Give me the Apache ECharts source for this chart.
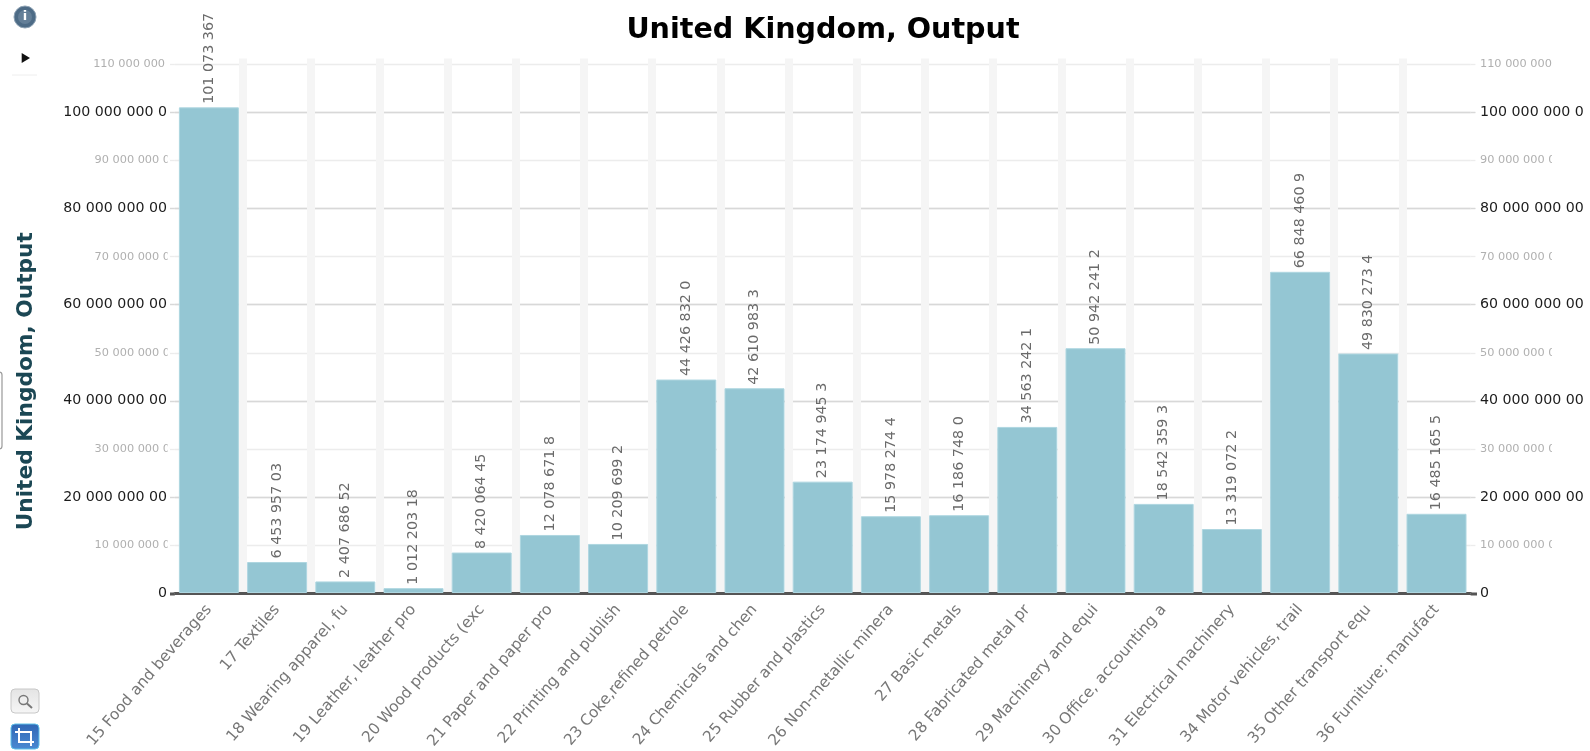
<!DOCTYPE html>
<html><head><meta charset="utf-8">
<style>html,body{margin:0;padding:0;background:#fff}#c{width:1590px;height:751px}</style>
<script src="https://cdn.jsdelivr.net/npm/echarts@6/dist/echarts.min.js"></script>
</head><body><div id="c"></div>
<script>
const chartTitle = "United Kingdom, Output";
const categories = ["15 Food and beverages","17 Textiles","18 Wearing apparel, fu","19 Leather, leather pro","20 Wood products (exc","21 Paper and paper pro","22 Printing and publish","23 Coke,refined petrole","24 Chemicals and chen","25 Rubber and plastics","26 Non-metallic minera","27 Basic metals","28 Fabricated metal pr","29 Machinery and equi","30 Office, accounting a","31 Electrical machinery","34 Motor vehicles, trail","35 Other transport equ","36 Furniture; manufact"];
const values = [101073367,6453957,2407686,1012203,8420064,12078671,10209699,44426832,42610983,23174945,15978274,16186748,34563242,50942241,18542359,13319072,66848460,49830273,16485165];
const valueLabels = ["101 073 367","6 453 957 03","2 407 686 52","1 012 203 18","8 420 064 45","12 078 671 8","10 209 699 2","44 426 832 0","42 610 983 3","23 174 945 3","15 978 274 4","16 186 748 0","34 563 242 1","50 942 241 2","18 542 359 3","13 319 072 2","66 848 460 9","49 830 273 4","16 485 165 5"];
const majorTicks = {0:"0",20000000:"20 000 000 00",40000000:"40 000 000 00",60000000:"60 000 000 00",80000000:"80 000 000 00",100000000:"100 000 000 0"};
const minorTicks = {10000000:"10 000 000 0",30000000:"30 000 000 0",50000000:"50 000 000 0",70000000:"70 000 000 0",90000000:"90 000 000 0",110000000:"110 000 000"};
const axisMax = 111240000;

const FONT = '"DejaVu Sans"';
const chart = echarts.init(document.getElementById('c'), null, {renderer:'canvas'});
const GL = 174.8, GR = 1470.6;

function yAxis(o){
  const isMajor = o.major;
  const map = isMajor ? majorTicks : minorTicks;
  return {
    type:'value', min:0, max:axisMax, interval:isMajor?20000000:10000000, position:o.pos,
    axisLine:{show:false},
    axisTick:{show:true,length:4.8,lineStyle:{color:isMajor?'#d8d8d8':'#ececec',width:1.3}},
    axisLabel:{
      show:true, showMaxLabel:false, showMinLabel:isMajor, margin:o.margin,
      fontFamily:FONT, fontSize:isMajor?14.2:11.3, color:isMajor?'#1c1c1c':'#b0b0b0',
      formatter:(v)=>{ const s = map[v]; if(!s) return ''; return s==="110 000 000" && o.pos==='left' ? '{p|'+s+'}' : s; },
      rich:{p:{padding:[0,5,0,0],fontFamily:FONT,fontSize:11.3,color:'#b0b0b0'}}
    },
    splitLine:{show:o.pos==='left',showMinLine:false,showMaxLine:false,lineStyle:{color:isMajor?'#d8d8d8':'#ececec',width:1.3}},
    ...(o.name?{name:chartTitle,nameLocation:'middle',nameGap:137,nameRotate:90,
      nameTextStyle:{fontFamily:FONT,fontWeight:'bold',fontSize:21.7,color:'#1b4754',padding:[0,111,0,0]}}:{})
  };
}

chart.setOption({
  animation:false,
  backgroundColor:'#fff',
  title:{text:chartTitle,left:818,top:11,textAlign:'center',textStyle:{fontFamily:FONT,fontWeight:'bold',fontSize:28.6,color:'#000'}},
  grid:{left:GL,right:1590-GR,top:58.5,bottom:158,containLabel:false,outerBoundsMode:'none'},
  xAxis:{
    type:'category', data:categories, offset:1,
    axisLine:{show:true,lineStyle:{color:'#555',width:3}},
    axisTick:{show:false},
    axisLabel:{interval:0,rotate:49,margin:13,fontFamily:FONT,fontSize:15.4,color:'#777'},
    splitLine:{show:true,interval:0,showMinLine:false,showMaxLine:false,lineStyle:{color:'#f5f5f5',width:8}}
  },
  yAxis:[
    yAxis({pos:'left',major:false,margin:4.8}),
    yAxis({pos:'right',major:false,margin:9.4}),
    yAxis({pos:'left',major:true,margin:7.8,name:true}),
    yAxis({pos:'right',major:true,margin:9.4})
  ],
  series:[{
    type:'bar', data:values, barWidth:60, yAxisIndex:0,
    itemStyle:{color:'#94c6d3',borderColor:'#aed6e0',borderWidth:1},
    label:{show:true,position:'top',rotate:90,align:'left',verticalAlign:'middle',distance:3.5,
      fontFamily:FONT,fontSize:14.3,color:'#6a6a6a',
      formatter:(p)=>valueLabels[p.dataIndex]}
  }]
});

const y0 = chart.convertToPixel({yAxisIndex:0},0) + 1;
const covers = Object.keys(minorTicks).filter(v=>+v<100000000).flatMap(v=>{
  const y = chart.convertToPixel({yAxisIndex:0},+v);
  return [
    {type:'rect',z:100,shape:{x:167.6,y:y-8,width:2.2,height:16},style:{fill:'#fff'}},
    {type:'rect',z:100,shape:{x:1552,y:y-8,width:10,height:16},style:{fill:'#fff'}}
  ];
});
const chrome = [
  {type:'line',z:1,shape:{x1:170,y1:y0,x2:GL,y2:y0},style:{stroke:'#555',lineWidth:3}},
  {type:'line',z:1,shape:{x1:GR,y1:y0,x2:1477,y2:y0},style:{stroke:'#555',lineWidth:3}},
  // info icon
  {type:'circle',z:100,shape:{cx:25,cy:17,r:11},style:{fill:'#4d6b86',stroke:'#8fa3b5',lineWidth:1}},
  {type:'circle',z:101,shape:{cx:25,cy:17,r:7},style:{fill:'#647f98'}},
  {type:'text',z:102,style:{x:25,y:17,text:'i',align:'center',verticalAlign:'middle',fill:'#fff',font:'bold 13px "DejaVu Sans"'}},
  // play triangle
  {type:'polygon',z:100,shape:{points:[[21.7,53],[30,58],[21.7,63]]},style:{fill:'#111'}},
  {type:'line',z:100,shape:{x1:12,y1:75,x2:37,y2:75},style:{stroke:'#eeeeee',lineWidth:1}},
  // left tab
  {type:'rect',z:100,shape:{x:-6,y:372,width:8,height:77,r:3},style:{fill:'#fff',stroke:'#999',lineWidth:1.2}},
  // magnifier button
  {type:'rect',z:100,shape:{x:11,y:689,width:28,height:24,r:4},style:{
    fill:new echarts.graphic.LinearGradient(0,0,0,1,[{offset:0,color:'#e4e4e4'},{offset:1,color:'#f6f6f6'}]),stroke:'#c8c8c8',lineWidth:1}},
  {type:'circle',z:101,shape:{cx:23.5,cy:700,r:4.5},style:{fill:'#eee',stroke:'#777',lineWidth:1.4}},
  {type:'line',z:101,shape:{x1:27,y1:703.5,x2:32,y2:708},style:{stroke:'#777',lineWidth:2}},
  // crop button
  {type:'rect',z:100,shape:{x:11,y:724,width:28,height:25,r:4},style:{
    fill:new echarts.graphic.LinearGradient(0,0,0,1,[{offset:0,color:'#2f66b5'},{offset:1,color:'#4a8ad2'}]),stroke:'#5fc0e8',lineWidth:1}},
  {type:'polyline',z:101,shape:{points:[[19,728],[19,742],[34,742]]},style:{fill:'none',stroke:'#fff',lineWidth:2}},
  {type:'polyline',z:101,shape:{points:[[15,732],[31,732],[31,746]]},style:{fill:'none',stroke:'#fff',lineWidth:2}}
];
chart.setOption({graphic:{elements:[...covers,...chrome]}});
</script></body></html>
